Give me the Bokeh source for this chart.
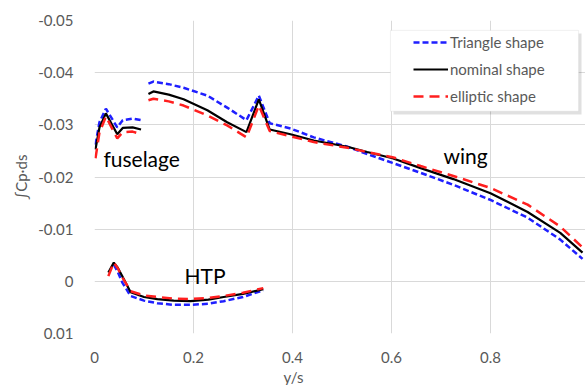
import numpy as np
from bokeh.plotting import figure
from bokeh.models import Range1d, FixedTicker, Label, Legend, LegendItem, BoxAnnotation, Title
from bokeh.embed import file_html
from bokeh.resources import INLINE

nan = np.nan

# ---- data ----
fus_x = [0.002, 0.010, 0.023, 0.046, 0.057, 0.077, 0.094]
fus_triangle = [-0.0262, -0.0305, -0.0331, -0.0295, -0.0309, -0.0312, -0.0309]
fus_nominal = [-0.0253, -0.0295, -0.0322, -0.0282, -0.0294, -0.0295, -0.0291]
fus_elliptic = [-0.0236, -0.0285, -0.0316, -0.0274, -0.0286, -0.0287, -0.0282]

wing_x = [0.109, 0.119, 0.15, 0.18, 0.228, 0.268, 0.307, 0.332, 0.354, 0.396,
          0.443, 0.511, 0.551, 0.602, 0.659, 0.725, 0.8, 0.875, 0.941, 0.986]
wing_triangle = [-0.0379, -0.0383, -0.0378, -0.0371, -0.0356, -0.0333, -0.0309, -0.0356, -0.0303, -0.0293,
                 -0.0276, -0.0258, -0.0244, -0.0227, -0.0208, -0.0185, -0.0156, -0.0122, -0.0080, -0.0043]
wing_nominal = [-0.0359, -0.0364, -0.0358, -0.0349, -0.0328, -0.0305, -0.0286, -0.0349, -0.0291, -0.0282,
                -0.0270, -0.0258, -0.0248, -0.0236, -0.0217, -0.0196, -0.0169, -0.0133, -0.0093, -0.0055]
wing_elliptic = [-0.0347, -0.0350, -0.0345, -0.0337, -0.0318, -0.0299, -0.0276, -0.0337, -0.0288, -0.0278,
                 -0.0267, -0.0256, -0.0248, -0.0238, -0.0221, -0.0202, -0.0179, -0.0147, -0.0105, -0.0065]

htp_x = [0.028, 0.039, 0.047, 0.056, 0.073, 0.1, 0.127, 0.16, 0.194, 0.23, 0.261, 0.3, 0.341]
htp_triangle = [nan, -0.0032, -0.0018, 0.0002, 0.0028, 0.0037, 0.0042, 0.0045, 0.0045, 0.0043, 0.0038, 0.0030, 0.0017]
htp_nominal = [-0.0017, -0.0036, -0.0026, -0.0010, 0.0021, 0.0030, 0.0034, 0.0037, 0.0038, 0.0035, 0.0030, 0.0024, 0.0015]
htp_elliptic = [-0.0010, -0.0036, -0.0025, -0.0008, 0.0019, 0.0027, 0.0030, 0.0033, 0.0034, 0.0032, 0.0028, 0.0022, 0.0013]

series_names = ["Triangle shape", "nominal shape", "elliptic shape"]
x_ticks = [0, 0.2, 0.4, 0.6, 0.8]
x_tick_labels = ["0", "0.2", "0.4", "0.6", "0.8"]
y_ticks = [0.01, 0, -0.01, -0.02, -0.03, -0.04, -0.05]
y_tick_labels = ["0.01", "0", "-0.01", "-0.02", "-0.03", "-0.04", "-0.05"]

FONT = "Lato"
GRAY = "#595959"

p = figure(width=585, height=385, output_backend="svg", toolbar_location=None,
           x_range=Range1d(0, 0.992), y_range=Range1d(0.01, -0.05),
           min_border_left=94, min_border_right=0, min_border_top=20, min_border_bottom=52)
p.outline_line_color = None
p.background_fill_color = "white"
p.border_fill_color = "white"

for ax, ticks, labels in ((p.xaxis[0], x_ticks, x_tick_labels), (p.yaxis[0], y_ticks, y_tick_labels)):
    ax.ticker = FixedTicker(ticks=ticks)
    ax.major_label_overrides = {t: l for t, l in zip(ticks, labels)}
    ax.axis_line_color = None
    ax.major_tick_line_color = None
    ax.minor_tick_line_color = None
    ax.major_label_text_font = FONT
    ax.major_label_text_font_size = "15px"
    ax.major_label_text_color = GRAY
    ax.major_label_standoff = 15

p.xaxis.major_label_standoff = 12

p.yaxis.axis_label = "\u222bCp\u00b7ds"
p.yaxis.axis_label_text_font = FONT
p.yaxis.axis_label_text_font_size = "15px"
p.yaxis.axis_label_text_font_style = "normal"
p.yaxis.axis_label_text_color = GRAY
p.yaxis.axis_label_standoff = 5

p.grid.grid_line_color = "#d9d9d9"
p.grid.grid_line_width = 1

def join(a, b, c):
    return list(a) + [nan] + list(b) + [nan] + list(c)

xs = join(fus_x, wing_x, htp_x)
styles = [
    dict(color="#1f1fff", line_dash="6 3", line_width=2.5),
    dict(color="black", line_dash="solid", line_width=2.2),
    dict(color="#ff1f1f", line_dash="10 6", line_width=2.5),
]
ys_all = [join(fus_triangle, wing_triangle, htp_triangle),
          join(fus_nominal, wing_nominal, htp_nominal),
          join(fus_elliptic, wing_elliptic, htp_elliptic)]

renderers = []
for ys, st in zip(ys_all, styles):
    r = p.line(xs, ys, line_color=st["color"], line_dash=st["line_dash"], line_width=st["line_width"])
    renderers.append(r)

# legend box with shadow
p.add_layout(BoxAnnotation(left=0.604, right=0.984, top=-0.0475, bottom=-0.0320,
                           fill_color="#000000", fill_alpha=0.12, line_alpha=0))
p.add_layout(BoxAnnotation(left=0.598, right=0.978, top=-0.0481, bottom=-0.0326,
                           fill_color="white", fill_alpha=1, line_color="#d0d0d0", line_width=1))

legend = Legend(items=[LegendItem(label=n, renderers=[r]) for n, r in zip(series_names, renderers)],
                location=(319, 227), padding=0, margin=0, spacing=7,
                glyph_width=35, glyph_height=20, label_height=20, label_standoff=2,
                background_fill_alpha=0, border_line_alpha=0,
                label_text_font=FONT, label_text_font_size="15px", label_text_color=GRAY)
p.add_layout(legend)

for txt, x, y in (("fuselage", 0.018, -0.0236), ("wing", 0.705, -0.0241), ("HTP", 0.182, -0.0011)):
    p.add_layout(Label(x=x, y=y, text=txt, text_font=FONT, text_font_size="21px",
                       text_color="black", text_baseline="middle", text_align="left"))

# x-axis title below the tick labels
p.add_layout(Title(text="y/s", align="left", offset=189, standoff=0, text_font=FONT,
                   text_font_size="15px", text_font_style="normal", text_color=GRAY), "below")

open("out.html", "w").write(file_html(p, INLINE))
